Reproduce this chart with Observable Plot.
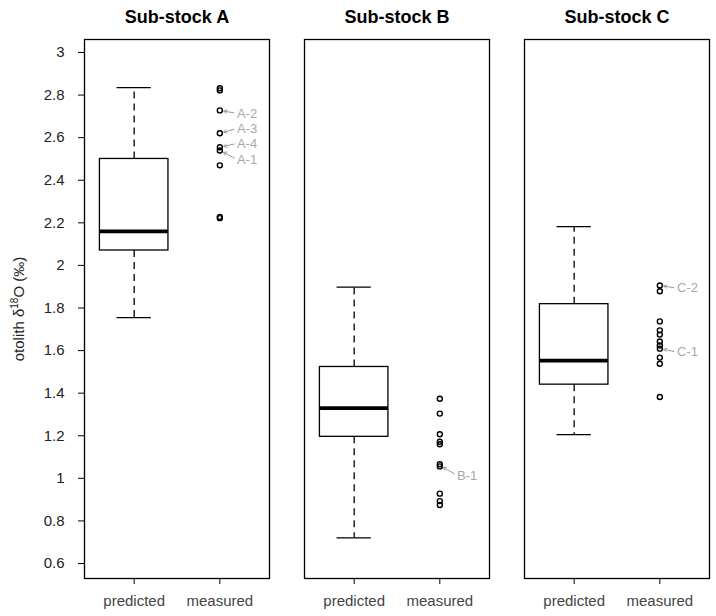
<!DOCTYPE html>
<html>
<head>
<meta charset="utf-8">
<script src="https://cdn.jsdelivr.net/npm/d3@7"></script>
<script src="https://cdn.jsdelivr.net/npm/@observablehq/plot@0.6"></script>
<style>
  html, body { margin: 0; padding: 0; background: white; }
</style>
</head>
<body>
<div id="chart"></div>
<script>
// ---- data ----
const panels = ["A", "B", "C"];
const groupLabels = ["predicted", "measured"];
const yTicks = [0.6, 0.8, 1, 1.2, 1.4, 1.6, 1.8, 2, 2.2, 2.4, 2.6, 2.8, 3];

// predicted box statistics per panel
const whiskerLow  = [1.755, 0.72, 1.205];
const quart1      = [2.07, 1.195, 1.44];
const medians     = [2.16, 1.33, 1.553];
const quart3      = [2.50, 1.523, 1.818];
const whiskerHigh = [2.835, 1.898, 2.182];

// measured values per panel
const measuredA = [2.832, 2.822, 2.728, 2.621, 2.555, 2.540, 2.470, 2.228, 2.222];
const measuredB = [1.374, 1.304, 1.207, 1.172, 1.160, 1.066, 1.056, 0.928, 0.893, 0.875];
const measuredC = [1.906, 1.879, 1.737, 1.695, 1.675, 1.643, 1.624, 1.609, 1.567, 1.538, 1.382];

// annotations
const annotPanel  = ["A", "A", "A", "A", "B", "C", "C"];
const annotText   = ["A-2", "A-3", "A-4", "A-1", "B-1", "C-2", "C-1"];
const annotPointY = [2.728, 2.621, 2.555, 2.540, 1.061, 1.906, 1.609];
const annotLabelY = [2.714, 2.643, 2.573, 2.498, 1.014, 1.893, 1.593];

// ---- tables ----
const boxes = panels.map((p, i) => ({
  panel: p, lo: whiskerLow[i], q1: quart1[i], med: medians[i], q3: quart3[i], hi: whiskerHigh[i]
}));
const measured = [measuredA, measuredB, measuredC];
const points = panels.flatMap((p, i) => measured[i].map(v => ({panel: p, value: v})));
const annots = annotText.map((t, i) => ({
  panel: annotPanel[i], text: t, pointY: annotPointY[i], labelY: annotLabelY[i]
}));

const PRED = 1, MEAS = 2, HALF = 0.4, CAP = 0.2, LABX = 2.2;
const YLABEL = "otolith δ18O (‰)";

const chart = Plot.plot({
  width: 716,
  height: 616,
  marginLeft: 83,
  marginRight: 5,
  marginTop: 39,
  marginBottom: 38,
  style: {fontFamily: "'Liberation Sans', Arial, sans-serif", background: "white"},
  fx: {domain: panels, axis: null, paddingInner: 0.158, paddingOuter: 0},
  x: {domain: [0.42, 2.58], axis: null},
  y: {domain: [0.5296, 3.061], axis: null},
  marks: [
    Plot.frame({stroke: "black", strokeWidth: 1.3}),
    // whiskers
    Plot.ruleX(boxes, {fx: "panel", x: () => PRED, y1: "q3", y2: "hi", stroke: "black", strokeWidth: 1.3, strokeDasharray: "7,5"}),
    Plot.ruleX(boxes, {fx: "panel", x: () => PRED, y1: "q1", y2: "lo", stroke: "black", strokeWidth: 1.3, strokeDasharray: "7,5"}),
    Plot.ruleY(boxes, {fx: "panel", y: "hi", x1: () => PRED - CAP, x2: () => PRED + CAP, stroke: "black", strokeWidth: 1.3}),
    Plot.ruleY(boxes, {fx: "panel", y: "lo", x1: () => PRED - CAP, x2: () => PRED + CAP, stroke: "black", strokeWidth: 1.3}),
    // box
    Plot.rect(boxes, {fx: "panel", x1: () => PRED - HALF, x2: () => PRED + HALF, y1: "q1", y2: "q3", fill: "white", stroke: "black", strokeWidth: 1.3}),
    Plot.ruleY(boxes, {fx: "panel", y: "med", x1: () => PRED - HALF, x2: () => PRED + HALF, stroke: "black", strokeWidth: 3.8}),
    // measured points
    Plot.dot(points, {fx: "panel", x: () => MEAS, y: "value", r: 2.5, stroke: "black", strokeWidth: 1.4, fill: "none"}),
    // annotations
    Plot.arrow(annots, {fx: "panel", x1: () => LABX, y1: "labelY", x2: () => MEAS, y2: "pointY", insetStart: 3, insetEnd: 4, headLength: 5, stroke: "#9a9a9a", strokeWidth: 1}),
    Plot.text(annots, {fx: "panel", x: () => LABX, y: "labelY", text: "text", textAnchor: "start", fill: "#a8a8a8", fontSize: 13}),
    // axes
    Plot.axisY({ticks: yTicks, tickFormat: d => String(d), tickSize: 6, tickPadding: 14, fontSize: 15, fill: "#222", label: null}),
    Plot.axisX({ticks: [PRED, MEAS], tickFormat: d => groupLabels[d - 1], tickSize: 6, tickPadding: 11, fontSize: 15, fill: "#444", label: null}),
    // titles
    Plot.text(panels, {fx: d => d, text: d => "Sub-stock " + d, frameAnchor: "top", textAnchor: "middle", lineAnchor: "bottom", dy: -17, fontSize: 18, fontWeight: "bold", fill: "black"}),
    // y label
    Plot.text([YLABEL], {fx: () => "A", text: d => d, frameAnchor: "left", textAnchor: "middle", lineAnchor: "middle", rotate: -90, dx: -65, fontSize: 15, fill: "#222"})
  ]
});

document.getElementById("chart").appendChild(chart);

// superscript the isotope number in the y label
chart.querySelectorAll("text").forEach(t => {
  if (t.textContent === YLABEL) {
    while (t.firstChild) t.removeChild(t.firstChild);
    const ns = "http://www.w3.org/2000/svg";
    const a = document.createElementNS(ns, "tspan"); a.textContent = "otolith δ";
    const b = document.createElementNS(ns, "tspan"); b.textContent = "18"; b.setAttribute("dy", "-6"); b.setAttribute("font-size", "10");
    const c = document.createElementNS(ns, "tspan"); c.textContent = "O (‰)"; c.setAttribute("dy", "6");
    t.appendChild(a); t.appendChild(b); t.appendChild(c);
  }
});
</script>
</body>
</html>
